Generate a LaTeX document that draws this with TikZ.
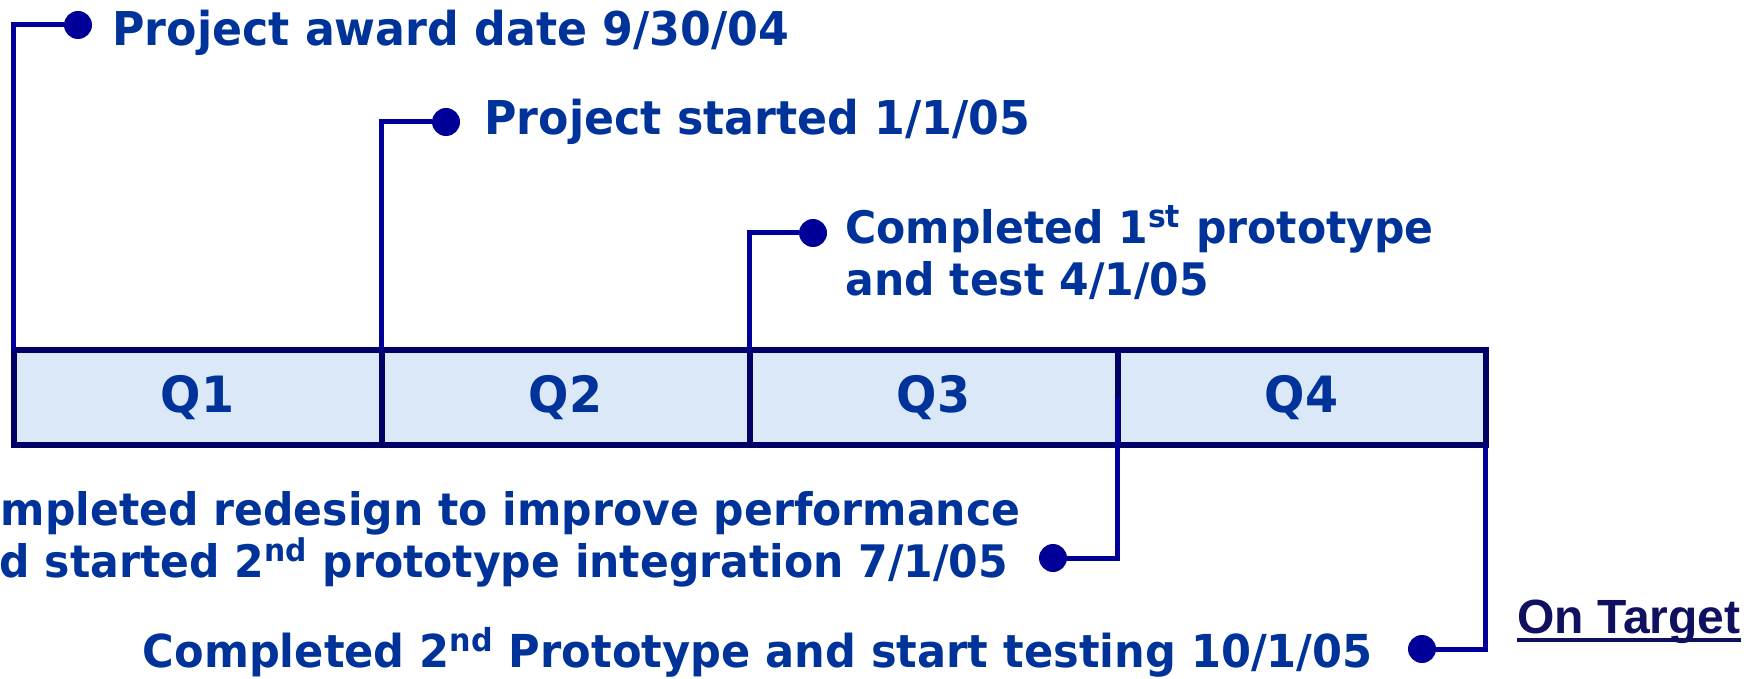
\documentclass[tikz,border=0pt]{standalone}
\usepackage{fontspec}
\setmainfont{DejaVu Sans}[FakeStretch=0.95]
\newfontfamily\targetfont{Liberation Sans}
\usetikzlibrary{positioning}
\definecolor{mileblue}{RGB}{0,0,153}
\definecolor{textblue}{RGB}{0,51,153}
\definecolor{barnavy}{RGB}{0,0,102}
\definecolor{barfill}{RGB}{219,232,247}
\definecolor{targetnavy}{RGB}{16,16,96}
\tikzset{
  quarter/.style={draw=barnavy,line width=3pt,fill=barfill,outer sep=0pt,inner sep=0pt,
    minimum width=184pt,minimum height=47.5pt,text=textblue,
    font=\fontsize{25}{30}\selectfont\bfseries},
  milestone/.style={circle,fill=mileblue,minimum size=14pt,inner sep=0pt},
  stem/.style={mileblue,line width=2.5pt},
  event/.style={text=textblue,inner sep=0pt,font=\fontsize{23.3}{26}\selectfont\bfseries},
  longevent/.style={event,font=\fontsize{22.4}{26}\selectfont\bfseries}
}

\begin{document}
\begin{tikzpicture}[x=0.5pt,y=-0.5pt]
  \useasboundingbox (0,0) rectangle (1760,679);
  \clip (0,0) rectangle (1760,679);
  % the year in quarters
  \node[quarter] (q1) at (197.5,397.5) {Q1};
  \node[quarter,right=0pt of q1] (q2) {Q2};
  \node[quarter,right=0pt of q2] (q3) {Q3};
  \node[quarter,right=0pt of q3] (q4) {Q4};
  % milestones
  \node[milestone] (m1) at (78,25) {};
  \node[milestone] (m2) at (446,122) {};
  \node[milestone] (m3) at (813,233) {};
  \node[milestone] (m4) at (1053,558) {};
  \node[milestone] (m5) at (1422,649) {};
  \draw[stem] (q1.north west) |- (m1);
  \draw[stem] (q2.north west) |- (m2);
  \draw[stem] (q3.north west) |- (m3);
  \draw[stem] (q4.west) |- (m4);
  \draw[stem] (q4.south east) |- (m5);
  \node[event,anchor=base west] (t1) at (112,46) {Project award date 9/30/04};
  \node[event,anchor=base west] (t2) at (484,135) {Project started 1/1/05};
  \node[longevent,anchor=base west,align=left] (t3) at (845,295)
    {Completed 1\textsuperscript{st} prototype\\and test 4/1/05};
  \node[longevent,anchor=base west,align=left] (t4) at (-60,577)
    {Completed redesign to improve performance\\and started 2\textsuperscript{nd} prototype integration 7/1/05};
  \node[event,anchor=base east,font=\fontsize{22.7}{26}\selectfont\bfseries] (t5) at (1373,667)
    {Completed 2\textsuperscript{nd} Prototype and start testing 10/1/05};
  % status
  \node[anchor=base west,inner sep=0pt,text=targetnavy,
    font=\fontsize{24}{28}\selectfont\targetfont\bfseries] (target) at (1517,633) {On Target};
  \draw[targetnavy,line width=2pt] ([yshift=-3.5pt]target.base west) -- ([yshift=-3.5pt]target.base east);
\end{tikzpicture}
\end{document}
